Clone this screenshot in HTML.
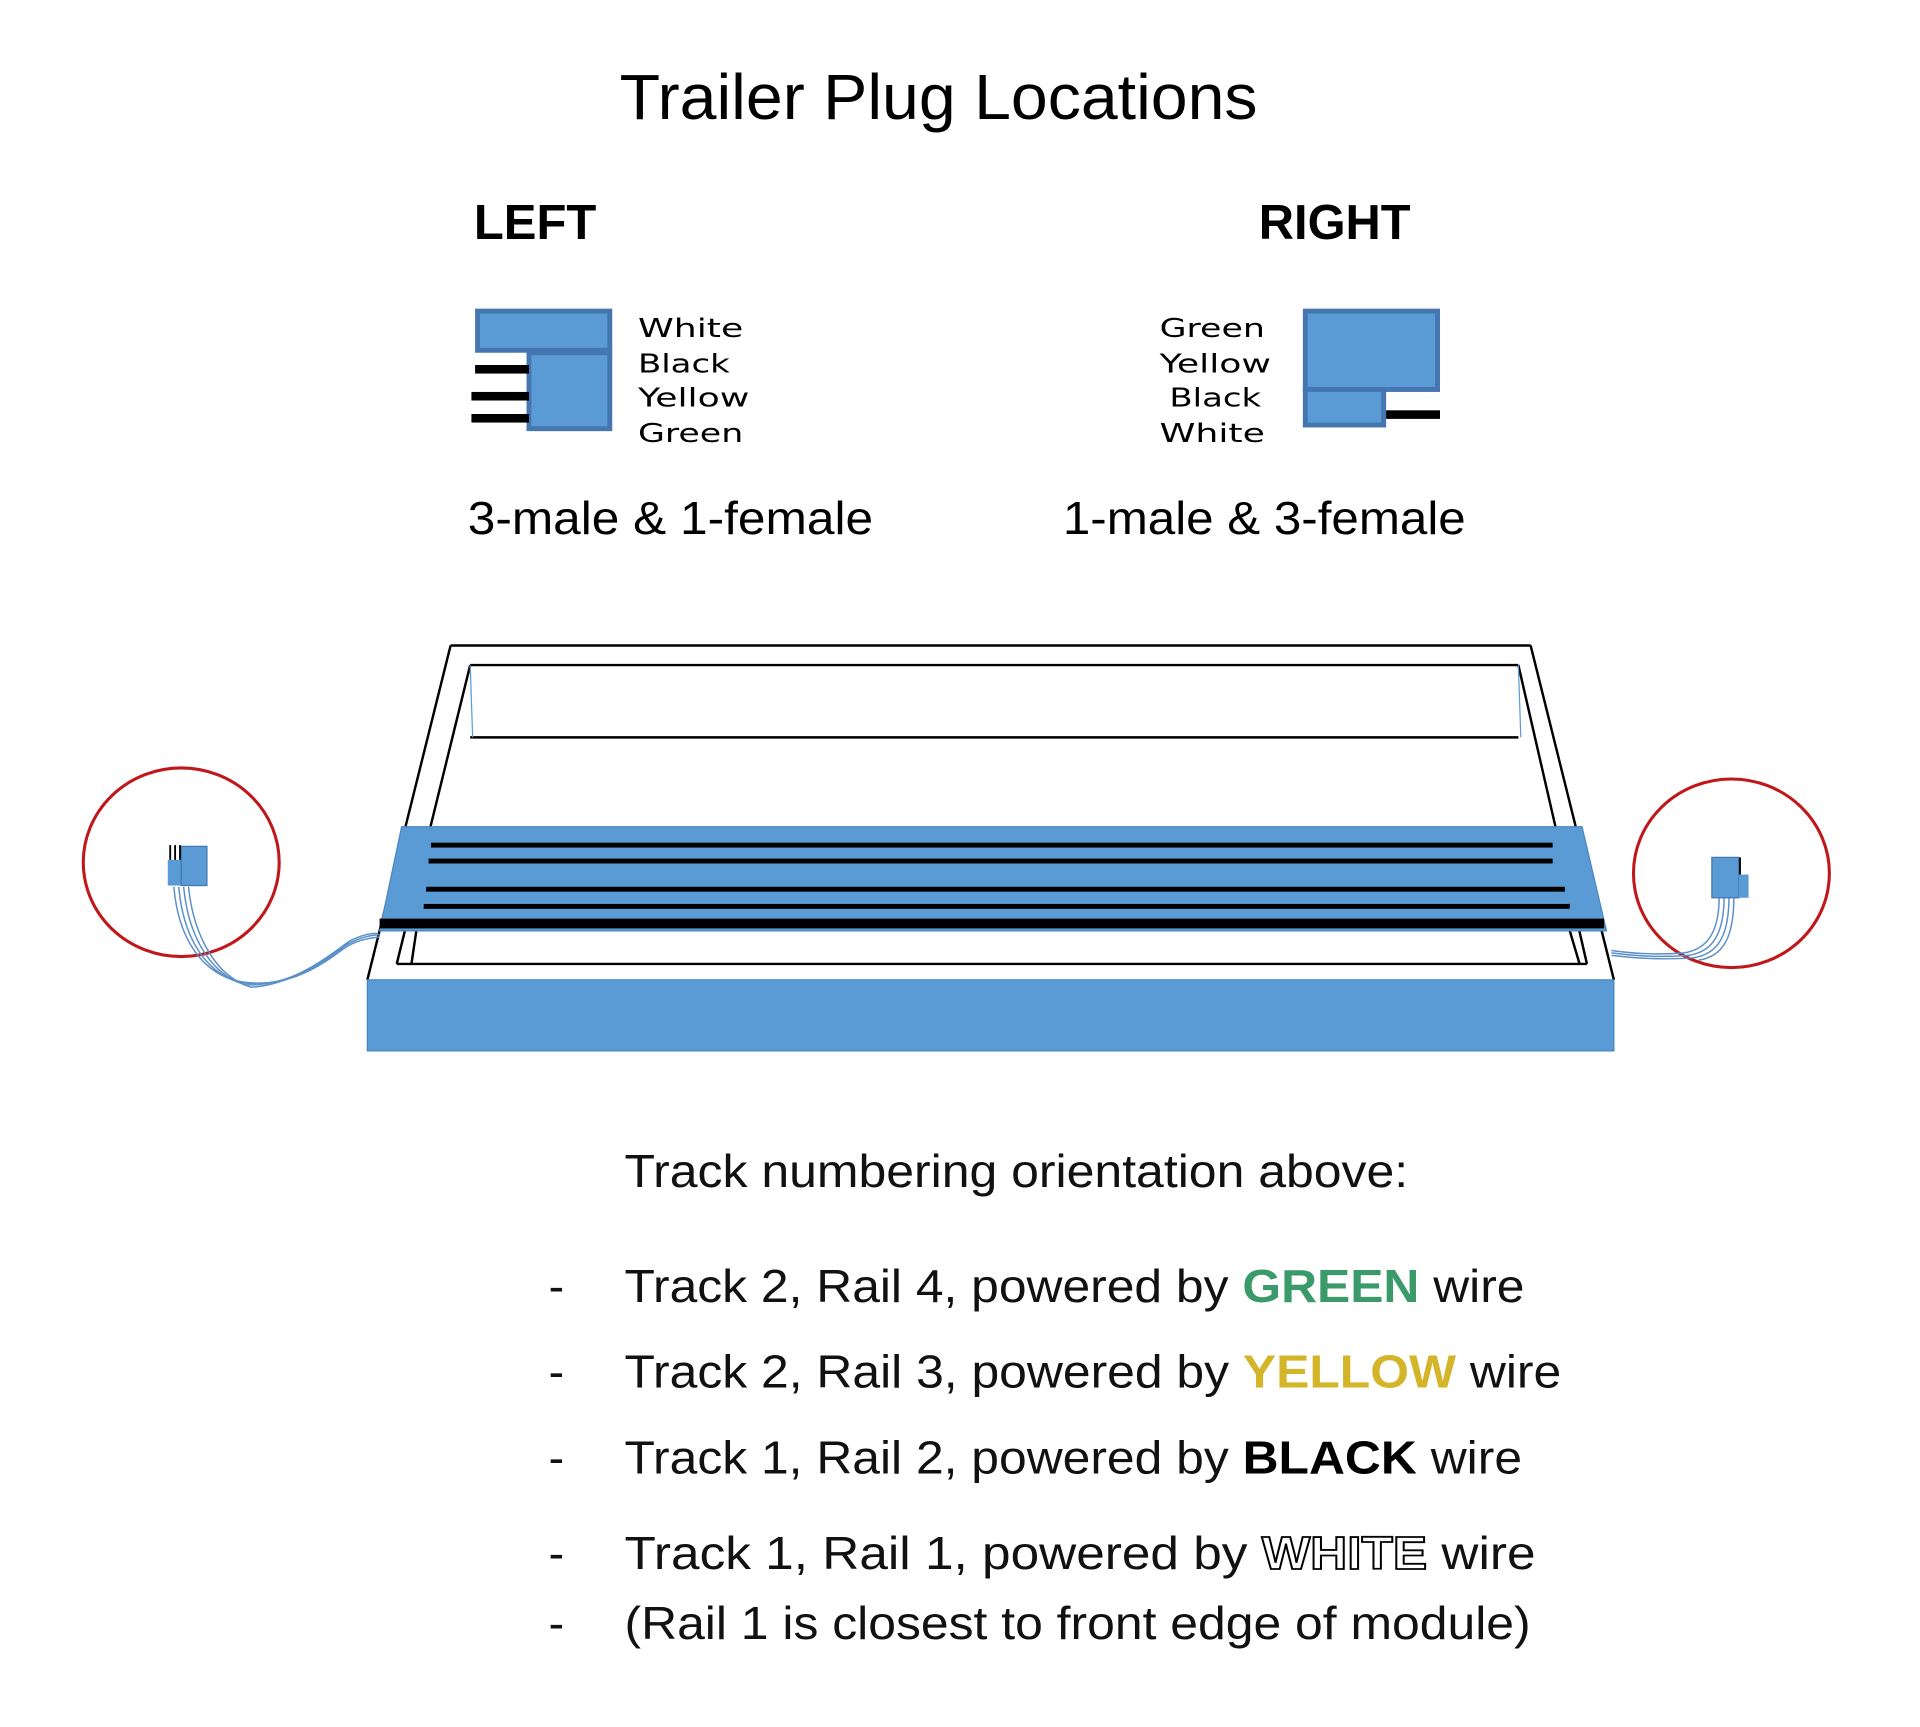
<!DOCTYPE html>
<html><head><meta charset="utf-8"><style>html,body{margin:0;padding:0;background:#fff}svg{display:block}</style></head>
<body>
<svg width="1920" height="1727" viewBox="0 0 1568 1410" preserveAspectRatio="none" xmlns="http://www.w3.org/2000/svg" font-family="Liberation Sans, Arial, sans-serif">
<rect width="1568" height="1410" fill="#fff"/>
<text x="506" y="97" font-size="52" textLength="521" lengthAdjust="spacingAndGlyphs">Trailer Plug Locations</text>
<text x="387" y="195" font-size="40" font-weight="bold" textLength="100" lengthAdjust="spacingAndGlyphs">LEFT</text>
<text x="1028" y="195" font-size="40" font-weight="bold" textLength="124" lengthAdjust="spacingAndGlyphs">RIGHT</text>

<g fill="#5b9bd5" stroke="#4576b0" stroke-width="4">
<rect x="390" y="254" width="108" height="32"/>
<rect x="432" y="288" width="66" height="62"/>
</g>
<g fill="#000"><rect x="388" y="298" width="44" height="7"/><rect x="385" y="320" width="47" height="7"/><rect x="385" y="338" width="47" height="7"/></g>
<g font-family="DejaVu Sans, sans-serif" font-size="21" fill="#000">
<text x="521" y="275" textLength="86" lengthAdjust="spacingAndGlyphs">White</text>
<text x="521" y="304" textLength="75" lengthAdjust="spacingAndGlyphs">Black</text>
<text x="521" y="332" textLength="91" lengthAdjust="spacingAndGlyphs">Yellow</text>
<text x="521" y="361" textLength="86" lengthAdjust="spacingAndGlyphs">Green</text>
<text x="947" y="275" textLength="86" lengthAdjust="spacingAndGlyphs">Green</text>
<text x="947" y="304" textLength="91" lengthAdjust="spacingAndGlyphs">Yellow</text>
<text x="955" y="332" textLength="75" lengthAdjust="spacingAndGlyphs">Black</text>
<text x="947" y="361" textLength="86" lengthAdjust="spacingAndGlyphs">White</text>
</g>
<g fill="#5b9bd5" stroke="#4576b0" stroke-width="4">
<rect x="1066" y="254" width="108" height="64"/>
<rect x="1066" y="318" width="64" height="29"/>
</g>
<rect x="1132" y="335" width="44" height="7" fill="#000"/>

<text x="382" y="436" font-size="38" textLength="331" lengthAdjust="spacingAndGlyphs">3-male &amp; 1-female</text>
<text x="868" y="436" font-size="38" textLength="329" lengthAdjust="spacingAndGlyphs">1-male &amp; 3-female</text>

<g fill="none" stroke="#000" stroke-width="2">
<line x1="368" y1="527" x2="1250" y2="527"/>
<line x1="384" y1="543" x2="1240" y2="543"/>
<line x1="384" y1="602" x2="1240" y2="602"/>
<line x1="368" y1="527" x2="300" y2="800"/>
<line x1="1250" y1="527" x2="1318" y2="800"/>
<line x1="384" y1="543" x2="324" y2="787"/>
<line x1="1240" y1="543" x2="1296" y2="787"/>
<line x1="340" y1="760" x2="336" y2="787"/>
<line x1="1282" y1="760" x2="1290" y2="787"/>
<line x1="324" y1="787" x2="1296" y2="787"/>
</g>
<g stroke="#5b9bd5" stroke-width="1"><line x1="384" y1="543" x2="386" y2="602"/><line x1="1240" y1="543" x2="1242" y2="602"/></g>
<polygon points="328,675 1292,675 1312,760 310,760" fill="#5b9bd5" stroke="#4a86c0" stroke-width="1"/>
<g fill="#000">
<rect x="352" y="688" width="916" height="4"/>
<rect x="350" y="701" width="918" height="4"/>
<rect x="348" y="724" width="930" height="4"/>
<rect x="346" y="738" width="936" height="4"/>
<rect x="310" y="750" width="1000" height="8"/>
</g>
<rect x="300" y="800" width="1018" height="58" fill="#5b9bd5" stroke="#4a86c0" stroke-width="1"/>

<ellipse cx="148" cy="704" rx="80" ry="77" fill="none" stroke="#c0181a" stroke-width="2.5"/>
<ellipse cx="1414" cy="713" rx="80" ry="77" fill="none" stroke="#c0181a" stroke-width="2.5"/>
<g fill="none" stroke="#5b8fc8" stroke-width="1.2">
<path d="M142 724 C145 760,160 790,190 800 C230 810,260 790,280 775 C290 768,300 766,310 765"/>
<path d="M146 724 C149 760,164 792,195 802 C232 808,262 788,282 772 C292 766,300 764,310 763"/>
<path d="M150 724 C153 758,168 794,200 804 C236 806,264 784,284 770"/>
<path d="M154 724 C157 756,172 796,205 806 C240 804,266 782,286 768 C294 764,302 762,308 762"/>
</g>
<rect x="137" y="702" width="11" height="21" fill="#5b9bd5"/>
<rect x="148" y="691" width="21" height="32" fill="#5b9bd5" stroke="#4576b0" stroke-width="1"/>
<g stroke="#000" stroke-width="1.5"><line x1="139" y1="690" x2="139" y2="702"/><line x1="143" y1="690" x2="143" y2="702"/><line x1="147" y1="690" x2="147" y2="702"/></g>
<g fill="none" stroke="#5b8fc8" stroke-width="1.2">
<path d="M1404 732 C1404 760,1395 775,1375 778 C1350 780,1330 778,1316 776"/>
<path d="M1408 732 C1408 762,1399 777,1379 780 C1352 782,1332 780,1316 778"/>
<path d="M1412 732 C1412 764,1403 779,1383 782 C1356 784,1334 782,1316 780"/>
<path d="M1416 732 C1416 766,1407 781,1387 784"/>
</g>
<rect x="1398" y="700" width="22" height="33" fill="#5b9bd5" stroke="#4576b0" stroke-width="1"/>
<rect x="1420" y="714" width="8" height="19" fill="#5b9bd5"/>
<line x1="1421" y1="700" x2="1421" y2="714" stroke="#000" stroke-width="1.5"/>

<g font-size="38" fill="#111">
<text x="510" y="969" textLength="640" lengthAdjust="spacingAndGlyphs">Track numbering orientation above:</text>
<text x="448" y="1063">-</text>
<text x="510" y="1063" textLength="735" lengthAdjust="spacingAndGlyphs">Track 2, Rail 4, powered by <tspan font-weight="bold" fill="#3a9a6a">GREEN</tspan> wire</text>
<text x="448" y="1133">-</text>
<text x="510" y="1133" textLength="765" lengthAdjust="spacingAndGlyphs">Track 2, Rail 3, powered by <tspan font-weight="bold" fill="#d4b52a">YELLOW</tspan> wire</text>
<text x="448" y="1203">-</text>
<text x="510" y="1203" textLength="733" lengthAdjust="spacingAndGlyphs">Track 1, Rail 2, powered by <tspan font-weight="bold" fill="#000">BLACK</tspan> wire</text>
<text x="448" y="1281">-</text>
<text x="510" y="1281" textLength="744" lengthAdjust="spacingAndGlyphs">Track 1, Rail 1, powered by <tspan font-weight="bold" fill="#fff" stroke="#000" stroke-width="1.5">WHITE</tspan> wire</text>
<text x="448" y="1338">-</text>
<text x="510" y="1338" textLength="740" lengthAdjust="spacingAndGlyphs">(Rail 1 is closest to front edge of module)</text>
</g>
</svg>
</body></html>
